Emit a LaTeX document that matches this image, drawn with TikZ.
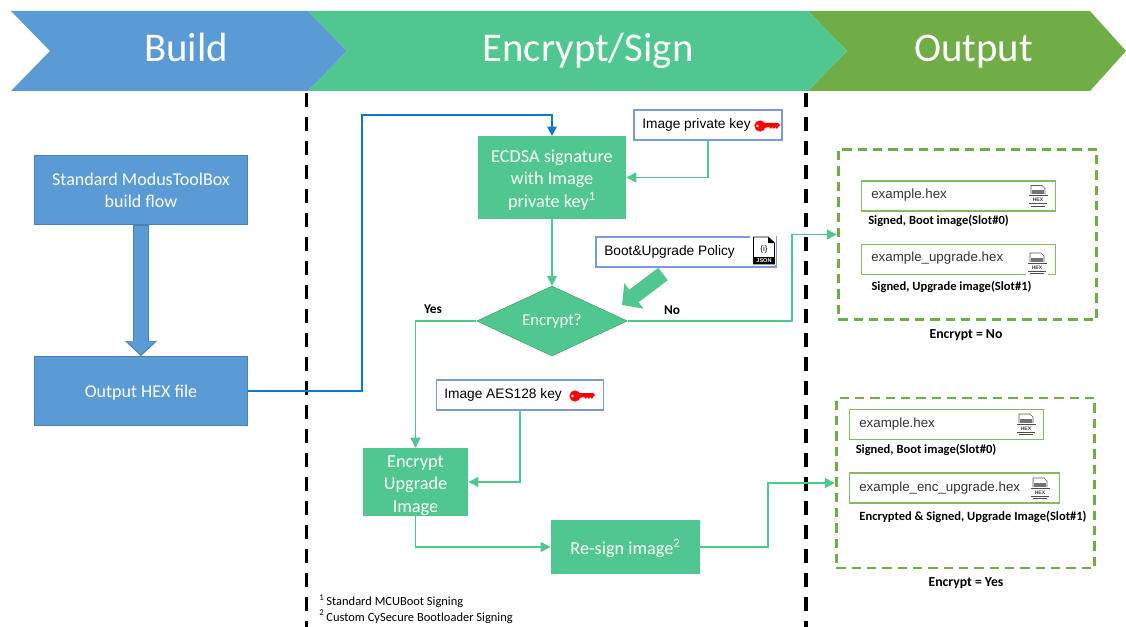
\documentclass[tikz,border=0pt]{standalone}
\usepackage{fontspec}
\setmainfont{Carlito}
\newfontfamily\arialfont{Liberation Sans}
\usetikzlibrary{arrows.meta,shapes.geometric}
\definecolor{buildblue}{HTML}{5B9BD5}
\definecolor{builddark}{HTML}{4A80B4}
\definecolor{signgreen}{HTML}{4FC78F}
\definecolor{outgreen}{HTML}{70AD47}
\definecolor{flowblue}{HTML}{0A78CC}
\definecolor{keyline}{HTML}{7A9ADB}
\newcommand{\firstline}[1]{\rule{0pt}{#1pt}}
\tikzset{
  banner/.style={fill=#1,draw=none},
  title/.style={text=white,anchor=base,font=\fontsize{30.6}{32}\selectfont},
  buildbox/.style={draw=builddark,fill=buildblue,text=white,align=center,inner sep=0pt,font=\fontsize{13.5}{16.5}\selectfont},
  signbox/.style={fill=signgreen,text=white,align=center,inner sep=0pt,font=\fontsize{13.7}{17}\selectfont},
  keybox/.style={draw=keyline,fill=white,inner sep=0pt,line width=.8pt},
  filebox/.style={draw=outgreen!85,fill=white,inner sep=0pt,line width=.8pt},
  groupbox/.style={draw=outgreen,line width=2.1pt,dash pattern=on 7pt off 4.5pt,inner sep=0pt},
  boxtext/.style={font=\arialfont\fontsize{10.3}{12}\selectfont,anchor=west,inner sep=0pt},
  filetext/.style={font=\arialfont\fontsize{10}{12}\selectfont,text=black!80,anchor=west,inner sep=0pt},
  filecap/.style={font=\bfseries\fontsize{9.4}{11}\selectfont,inner sep=0pt},
  groupcap/.style={font=\bfseries\fontsize{10.3}{12}\selectfont,inner sep=0pt},
  branchlbl/.style={font=\bfseries\fontsize{10}{12}\selectfont,inner sep=0pt},
  flow/.style={draw=signgreen,line width=1.1pt,-{Triangle[length=7.5pt,width=7.5pt]}},
  divider/.style={line width=2.6pt,dash pattern=on 10.5pt off 7.5pt},
  keyicon/.pic={
    \fill[red] (-6,0) circle (5.6);
    \fill[white] (-8.5,0) circle (1.4);
    \fill[red] (-2,-3) -- (12,-3) -- (14,-1) -- (12,1) -- (11,3) -- (9,1) -- (8,3) -- (6,1) -- (5,3) -- (3,1) -- (-2,2) -- cycle;
  },
  hexicon/.pic={
    \fill[white] (-11,-11) rectangle (11,13);
    \draw[black!65,line width=.5pt] (-7,-1) -- (-7,-10) -- (4,-10) -- (7,-7) -- (7,-1);
    \fill[black!55] (-6,-5) rectangle (6,-1.5);
    \draw[black!70,line width=.7pt] (-9.5,0) -- (9.5,0);
    \node[font=\arialfont\bfseries\fontsize{3.8}{4}\selectfont,text=black!75,inner sep=0pt] at (0,4.5) {HEX};
    \draw[black!70,line width=.7pt] (-9,8) -- (9,8) (-7,10.5) -- (7,10.5);
  },
  jsonicon/.pic={
    \fill[white] (-14,-15) rectangle (11.5,14);
    \draw[black,fill=white,line width=.7pt] (-10.5,13) -- (-10.5,-14) -- (4,-14) -- (10.5,-8) -- (10.5,13) -- cycle;
    \fill[black] (4,-14) -- (10.5,-8) -- (4,-8) -- cycle;
    \fill[black] (-10.5,6) rectangle (10.5,13);
    \node[font=\arialfont\bfseries\fontsize{4.2}{5}\selectfont,text=white,inner sep=0pt] at (0,9.5) {JSON};
    \node[font=\arialfont\fontsize{6}{7}\selectfont,inner sep=0pt] at (0,-2) {\{i\}};
  }
}
\begin{document}
\begin{tikzpicture}[x=.75pt,y=-.75pt]
    \useasboundingbox (0,0) rectangle (1126,627);

    % ------ banners --------------
    \draw[banner=buildblue] (11,11) -- (308,11) -- (347,51) -- (308,91) -- (11,91) -- (50,51) -- cycle;
    \draw[banner=outgreen] (808,11) -- (1090,11) -- (1126,51) -- (1090,91) -- (808,91) -- (847,51) -- cycle;
    \draw[banner=signgreen] (308,11) -- (808,11) -- (847,51) -- (808,91) -- (308,91) -- (347,51) -- cycle;
    \node[title] (buildtitle) at (186,62) {Build};
    \node[title] (signtitle) at (588,62) {Encrypt/Sign};
    \node[title] (outtitle) at (973.5,62) {Output};

    \draw[divider] (306.5,93) -- (306.5,627);
    \draw[divider] (806,93) -- (806,627);

    % ------ build --------------
    \node[buildbox,minimum width=160pt,minimum height=52pt] (stdflow) at (141,189.5) {\firstline{11}Standard ModusToolBox\\build flow};
    \node[buildbox,minimum width=160pt,minimum height=52pt] (outhex) at (141,391) {\firstline{12}Output HEX file};
    \draw[builddark,line width=11.6pt,-{Triangle[length=11.2pt,width=23.3pt]}] (stdflow.south) -- (outhex.north);
    \draw[buildblue,line width=10.4pt,-{Triangle[length=10pt,width=21pt]}] ([yshift=-1pt]stdflow.south) -- ([yshift=1.2pt]outhex.north);

    % ------ encrypt / sign --------------
    \node[signbox,minimum width=111pt,minimum height=62pt] (ecdsa) at (552,177.5) {\firstline{13}ECDSA signature\\with Image\\private key\textsuperscript{1}};
    \node[keybox,minimum width=111pt,minimum height=22.5pt] (privkey) at (708,125) {};
    \node[boxtext] (privkeytext) at (642,125) {Image private key};
    \pic at (766,126) {keyicon};
    \node[keybox,minimum width=135pt,minimum height=22.5pt] (policy) at (686,252) {};
    \node[boxtext] (policytext) at (604,252) {Boot\&Upgrade Policy};
    \pic at (764,251) {jsonicon};
    \node[diamond,draw=signgreen!75!black,line width=.3pt,fill=signgreen,text=white,aspect=2.14,minimum width=113pt,minimum height=52.5pt,inner sep=0pt,font=\fontsize{12.5}{14}\selectfont] (encq) at (552,321) {Encrypt?};
    \node[keybox,minimum width=125pt,minimum height=22.5pt] (aeskey) at (520,395) {};
    \node[boxtext] (aestext) at (444,395) {Image AES128 key};
    \pic at (581,396) {keyicon};
    \node[signbox,minimum width=79pt,minimum height=51pt] (encimg) at (415.5,482) {\firstline{14}Encrypt\\Upgrade\\Image};
    \node[signbox,minimum width=112pt,minimum height=40.5pt] (resign) at (625.5,547) {\firstline{13}Re-sign image\textsuperscript{2}};

    \coordinate (busA) at (362,115);
    \coordinate (busB) at (792,234.5);
    \coordinate (busC) at (768,483);
    \coordinate (policytail) at (663,274);
    \coordinate (policytip) at (622,305);

    \draw[flowblue,line width=1.2pt,-{Triangle[length=7pt,width=7pt]}] (outhex.east) -| (busA) -| (ecdsa.north);
    \draw[flow] (privkey.south) |- (ecdsa.east);
    \draw[flow] (ecdsa.south) -- (encq.north);
    \draw[signgreen,line width=11.7pt,-{Triangle[length=11.2pt,width=23.3pt]}] (policytail) -- (policytip);
    \draw[flow] (encq.west) -| (encimg.north);
    \draw[flow] (aeskey.south) |- (encimg.east);
    \draw[flow] (encimg.south) |- (resign.west);

    \node[branchlbl] (yeslbl) at (433,309) {Yes};
    \node[branchlbl] (nolbl) at (672,310) {No};

    % ------ output --------------
    \node[groupbox,minimum width=194pt,minimum height=128pt] (groupno) at (967.5,234.5) {};
    \node[groupbox,minimum width=194pt,minimum height=127.5pt] (groupyes) at (965.5,483) {};
    \draw[flow] (encq.east) -| (busB) -- (groupno.west);
    \draw[flow] (resign.east) -| (busC) -- (groupyes.west);

    \node[filebox,minimum width=145pt,minimum height=22.5pt] (hexa) at (958.5,196) {};
    \node[filetext] (hexatext) at (871,195) {example.hex};
    \pic at (1038,195.5) {hexicon};
    \node[filecap] (hexacap) at (938.5,221) {Signed, Boot image(Slot\#0)};
    \node[filebox,minimum width=145pt,minimum height=23pt] (hexb) at (958.5,259.5) {};
    \node[filetext] (hexbtext) at (871,258) {example\_upgrade.hex};
    \pic at (1037,263) {hexicon};
    \node[filecap] (hexbcap) at (951.5,287) {Signed, Upgrade image(Slot\#1)};
    \node[groupcap] (nocap) at (966,335) {Encrypt = No};

    \node[filebox,minimum width=145pt,minimum height=23pt] (hexc) at (946.5,424.5) {};
    \node[filetext] (hexctext) at (859,424.5) {example.hex};
    \pic at (1026,424) {hexicon};
    \node[filecap] (hexccap) at (926,450) {Signed, Boot image(Slot\#0)};
    \node[filebox,minimum width=157pt,minimum height=22.5pt] (hexd) at (954.5,488) {};
    \node[filetext] (hexdtext) at (859,488) {example\_enc\_upgrade.hex};
    \pic at (1040,488) {hexicon};
    \node[filecap] (hexdcap) at (973,517) {Encrypted \& Signed, Upgrade Image(Slot\#1)};
    \node[groupcap] (yescap) at (966,583) {Encrypt = Yes};

    % ------ notes --------------
    \node[font=\fontsize{9.35}{11.3}\selectfont,align=left,anchor=north west,inner sep=0pt] (notes) at (319,595) {\textsuperscript{1}\,Standard MCUBoot Signing\\\textsuperscript{2}\,Custom CySecure Bootloader Signing};
\end{tikzpicture}
\end{document}
